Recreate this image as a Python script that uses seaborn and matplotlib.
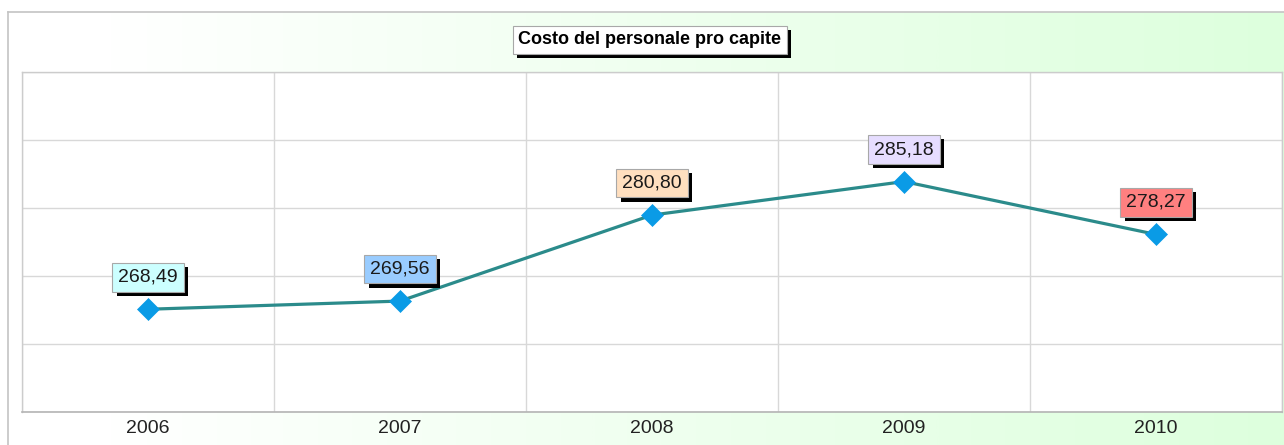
import numpy as np
import pandas as pd
import matplotlib
matplotlib.use("Agg")
import matplotlib.pyplot as plt
import matplotlib.patheffects as pe
from matplotlib.colors import LinearSegmentedColormap
import seaborn as sns

# Costo del personale pro capite, per anno
years = ["2006", "2007", "2008", "2009", "2010"]
values = [268.49, 269.56, 280.80, 285.18, 278.27]
labels = ["268,49", "269,56", "280,80", "285,18", "278,27"]
label_colors = ["#ccffff", "#99ccff", "#ffdfbf", "#e6ddff", "#ff8080"]
title = "Costo del personale pro capite"

sns.set_theme(style="white")
plt.rcParams["font.family"] = ["Liberation Sans", "DejaVu Sans"]

W, H, DPI = 1284, 445, 100
fig = plt.figure(figsize=(W / DPI, H / DPI), dpi=DPI, facecolor="white")

# Framed backdrop with a white-to-green horizontal gradient
fx0, ftop = 8 / W, (H - 12) / H
bg = fig.add_axes([fx0, 0, 1 - fx0, ftop], zorder=0)
grad_cmap = LinearSegmentedColormap.from_list(
    "bg", [(0.0, "#ffffff"), (0.08, "#ffffff"), (1.0, "#ddffdd")])
bg.imshow(np.linspace(0, 1, 512)[None, :], aspect="auto", cmap=grad_cmap,
          extent=[0, 1, 0, 1])
bg.set_xlim(0, 1)
bg.set_ylim(0, 1)
bg.set_xticks([])
bg.set_yticks([])
for side in ("right", "bottom"):
    bg.spines[side].set_visible(False)
for side in ("left", "top"):
    bg.spines[side].set_color("#c4c4c4")
    bg.spines[side].set_linewidth(1.2)

# Plot area
ax = fig.add_axes([22 / W, (H - 411.7) / H, 1260 / W, (411.7 - 72) / H], zorder=1)
ax.set_facecolor("white")

df = pd.DataFrame({"anno": years, "costo": values})
sns.lineplot(data=df, x="anno", y="costo", ax=ax, color="#2b8b8b",
             linewidth=2.3, sort=False, zorder=3)
sns.scatterplot(data=df, x="anno", y="costo", ax=ax, marker="D", s=125,
                color="#0a9be6", edgecolor="#0a9be6", linewidth=0.5, zorder=4)

ylo, yhi = 255.1, 299.5
ax.set_ylim(ylo, yhi)
ax.set_xlim(-0.5, len(years) - 0.5)
ax.set_yticks(np.linspace(ylo, yhi, 6))
ax.set_yticklabels([])
ax.set_xticks(np.arange(len(years)))
ax.set_xticklabels(years)
ax.set_xticks(np.arange(len(years) + 1) - 0.5, minor=True)
ax.set_xlabel("")
ax.set_ylabel("")
ax.tick_params(axis="x", which="major", length=0, pad=6, labelsize=14,
               labelcolor="#222222")
ax.tick_params(axis="x", which="minor", length=9, width=1, color="#d4d4d4",
               direction="out")
ax.tick_params(axis="y", length=0)
ax.grid(False)
ax.yaxis.grid(True, color="#d8d8d8", linewidth=1)
ax.xaxis.grid(True, which="minor", color="#d8d8d8", linewidth=1)
for side in ("left", "top", "right"):
    ax.spines[side].set_color("#cccccc")
    ax.spines[side].set_linewidth(1)
ax.spines["bottom"].set_color("#b4b4b4")
ax.spines["bottom"].set_linewidth(1.2)

shadow = [pe.SimplePatchShadow(offset=(3, -3), shadow_rgbFace="black", alpha=1.0),
          pe.Normal()]

# Value labels above each point
for i, (v, lab, col) in enumerate(zip(values, labels, label_colors)):
    t = ax.annotate(lab, (i, v), xytext=(0, 32), textcoords="offset pixels",
                    ha="center", va="center", fontsize=14, color="#1a1a1a",
                    zorder=6,
                    bbox=dict(boxstyle="square,pad=0.3", facecolor=col,
                              edgecolor="#a8a8a8", linewidth=0.8))
    t.get_bbox_patch().set_path_effects(shadow)

# Title box
tt = fig.text(650 / W, 1 - 40 / H, title, ha="center", va="center",
              fontsize=13, fontweight="bold", color="black", zorder=5,
              bbox=dict(boxstyle="square,pad=0.3", facecolor="white",
                        edgecolor="#a8a8a8", linewidth=0.8))
tt.get_bbox_patch().set_path_effects(shadow)

fig.savefig("out.png", dpi=DPI, facecolor="white")
